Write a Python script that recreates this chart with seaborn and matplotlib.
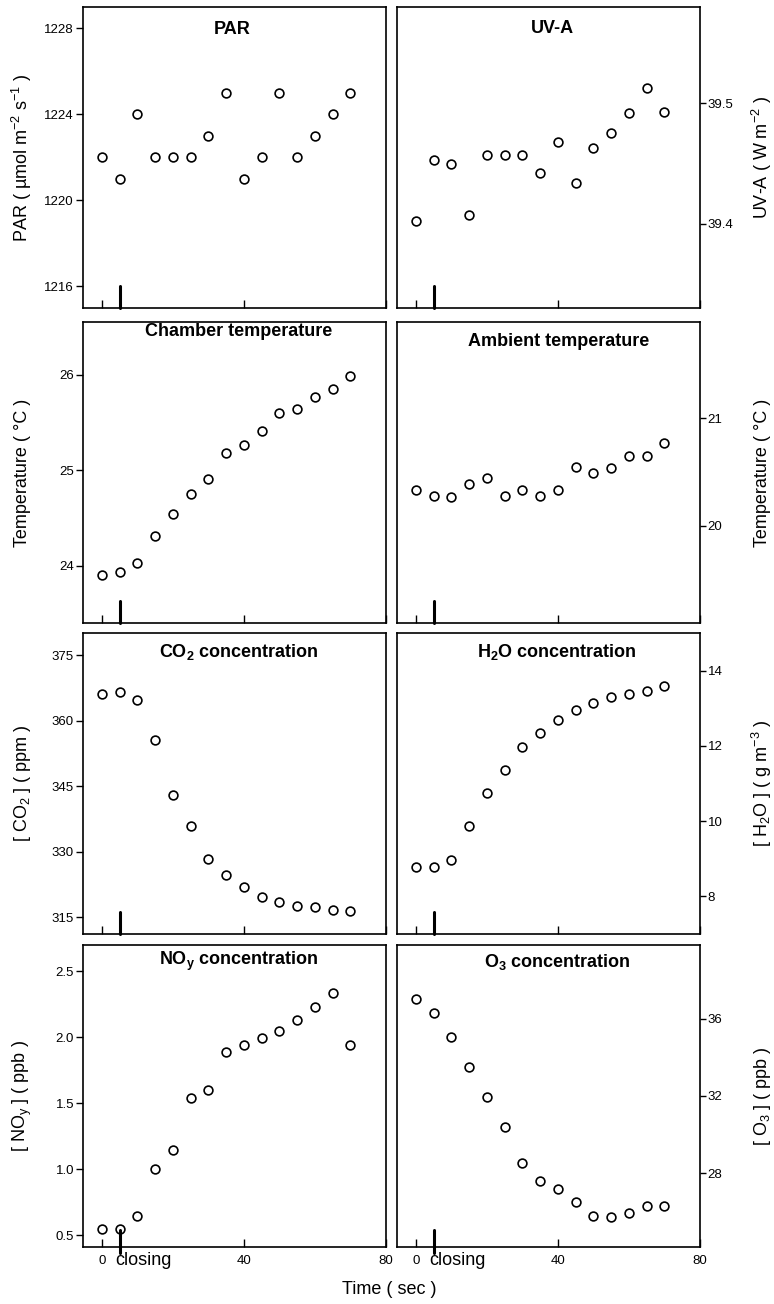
import matplotlib
matplotlib.use("Agg")
import matplotlib.pyplot as plt
import matplotlib.transforms as mtransforms
from matplotlib.ticker import FixedLocator, FormatStrFormatter
import seaborn as sns
import pandas as pd

# ---------------- data ----------------
time_s = [0, 5, 10, 15, 20, 25, 30, 35, 40, 45, 50, 55, 60, 65, 70]
closing_time = 5

par = [1222, 1221, 1224, 1222, 1222, 1222, 1223, 1225, 1221, 1222, 1225, 1222, 1223, 1224, 1225]
uva = [39.402, 39.453, 39.450, 39.407, 39.457, 39.457, 39.457, 39.442, 39.468, 39.434,
       39.463, 39.475, 39.492, 39.513, 39.493]
chamber_t = [23.90, 23.93, 24.03, 24.31, 24.54, 24.75, 24.91, 25.18, 25.26, 25.41,
             25.60, 25.64, 25.77, 25.85, 25.98]
ambient_t = [20.33, 20.28, 20.27, 20.39, 20.44, 20.28, 20.33, 20.28, 20.33, 20.55,
             20.49, 20.54, 20.65, 20.65, 20.77]
co2 = [366.1, 366.7, 364.7, 355.6, 343.1, 336.0, 328.4, 324.8, 321.9, 319.6,
       318.6, 317.7, 317.3, 316.7, 316.4]
h2o = [8.77, 8.77, 8.97, 9.88, 10.76, 11.36, 11.98, 12.33, 12.69, 12.96,
       13.15, 13.30, 13.39, 13.46, 13.59]
noy = [0.543, 0.543, 0.644, 1.003, 1.144, 1.543, 1.604, 1.891, 1.942, 1.992,
       2.045, 2.131, 2.232, 2.333, 1.942]
o3 = [37.02, 36.31, 35.05, 33.52, 31.93, 30.38, 28.53, 27.60, 27.22, 26.55,
      25.78, 25.74, 25.97, 26.33, 26.33]

titles = ["PAR", "UV-A", "Chamber temperature", "Ambient temperature",
          r"CO$_\mathbf{2}$ concentration", r"H$_\mathbf{2}$O concentration",
          r"NO$_\mathbf{y}$ concentration", r"O$_\mathbf{3}$ concentration"]
ylabels = [r"PAR ( µmol m$^{-2}$ s$^{-1}$ )", r"UV-A ( W m$^{-2}$ )",
           "Temperature ( °C )", "Temperature ( °C )",
           r"[ CO$_2$ ] ( ppm )", r"[ H$_2$O ] ( g m$^{-3}$ )",
           r"[ NO$_\mathrm{y}$ ] ( ppb )", r"[ O$_3$ ] ( ppb )"]
yticks = [[1216, 1220, 1224, 1228], [39.4, 39.5], [24, 25, 26], [20, 21],
          [315, 330, 345, 360, 375], [8, 10, 12, 14], [0.5, 1.0, 1.5, 2.0, 2.5], [28, 32, 36]]
ylims = [(1215.0, 1229.0), (39.33, 39.58), (23.40, 26.55), (19.10, 21.89),
         (311.2, 380.1), (7.0, 15.0), (0.41, 2.70), (24.2, 39.8)]
yfmt = ["%d", "%.1f", "%d", "%d", "%d", "%d", "%.1f", "%d"]
series = [par, uva, chamber_t, ambient_t, co2, h2o, noy, o3]
xticks = [0, 40, 80]
xlim = (-5.3, 80)

# ---------------- layout ----------------
sns.set_theme(style="white")
plt.rcParams["font.family"] = ["Liberation Sans", "DejaVu Sans"]
plt.rcParams["mathtext.fontset"] = "custom"
plt.rcParams["mathtext.rm"] = "Liberation Sans"
plt.rcParams["mathtext.it"] = "Liberation Sans:italic"
plt.rcParams["mathtext.bf"] = "Liberation Sans:bold"
plt.rcParams["axes.unicode_minus"] = False

W, H = 774, 1304
fig = plt.figure(figsize=(W / 100, H / 100), dpi=100)

col_left_px = [83, 397]
col_w_px = 303
rows_px = [(7, 308), (322, 623), (633, 934), (945, 1247)]
title_pos = [(0.492, 0.924), (0.512, 0.930), (0.512, 0.967), (0.535, 0.934),
             (0.513, 0.937), (0.528, 0.937), (0.513, 0.945), (0.528, 0.945)]

for i in range(8):
    r, c = divmod(i, 2)
    top, bot = rows_px[r]
    ax = fig.add_axes([col_left_px[c] / W, 1 - bot / H, col_w_px / W, (bot - top) / H])
    df = pd.DataFrame({"time": time_s, "value": series[i]})
    sns.scatterplot(data=df, x="time", y="value", ax=ax, marker="o", s=40,
                    color="white", edgecolor="black", linewidth=1.2, zorder=3)
    ax.set_xlim(*xlim)
    ax.set_ylim(*ylims[i])
    for sp in ax.spines.values():
        sp.set_visible(True)
        sp.set_color("black")
        sp.set_linewidth(1.2)
    ax.set_facecolor("white")

    # x ticks: inward, bottom only
    ax.xaxis.set_major_locator(FixedLocator(xticks))
    ax.tick_params(axis="x", which="major", direction="in", length=6, width=1.0,
                   color="black", bottom=True, top=False, labelsize=9.5, pad=6,
                   labelbottom=(r == 3), labelcolor="black")
    # y ticks
    ax.yaxis.set_major_locator(FixedLocator(yticks[i]))
    ax.yaxis.set_major_formatter(FormatStrFormatter(yfmt[i]))
    if c == 0:
        ax.tick_params(axis="y", direction="out", length=5, width=1.0, color="black",
                       left=True, right=False, labelleft=True, labelright=False,
                       labelsize=9.5, pad=1.5, labelcolor="black")
    else:
        ax.tick_params(axis="y", direction="out", length=4, width=1.0, color="black",
                       left=False, right=True, labelleft=False, labelright=True,
                       labelsize=9.5, pad=1.5, labelcolor="black")
        ax.yaxis.set_label_position("right")

    ax.set_xlabel("")
    ax.set_ylabel(ylabels[i], fontsize=13, color="black")
    ax.yaxis.label.set_verticalalignment("center")
    ax.yaxis.label.set_horizontalalignment("center")
    if c == 0:
        ax.yaxis.set_label_coords(-0.201, 0.5)
    else:
        ax.yaxis.set_label_coords(1.205, 0.5)

    # closing marker
    if r == 3:
        ax.axvline(closing_time, ymin=-0.02, ymax=0.056, color="black", lw=2.2,
                   clip_on=False, zorder=4)
        trans = mtransforms.blended_transform_factory(ax.transData, ax.transAxes)
        ax.text(closing_time - 1.2, -0.018, "closing", transform=trans, ha="left",
                va="top", fontsize=13, color="black")
    else:
        ax.axvline(closing_time, ymin=0, ymax=0.072, color="black", lw=2.2,
                   clip_on=False, zorder=4)

    tx, ty = title_pos[i]
    ax.text(tx, ty, titles[i], transform=ax.transAxes, ha="center", va="center",
            fontsize=13, fontweight="bold", color="black")

fig.text(389 / W, 1 - 1290 / H, "Time ( sec )", ha="center", va="center",
         fontsize=13, color="black")

fig.savefig("out.png", dpi=100, facecolor="white")
